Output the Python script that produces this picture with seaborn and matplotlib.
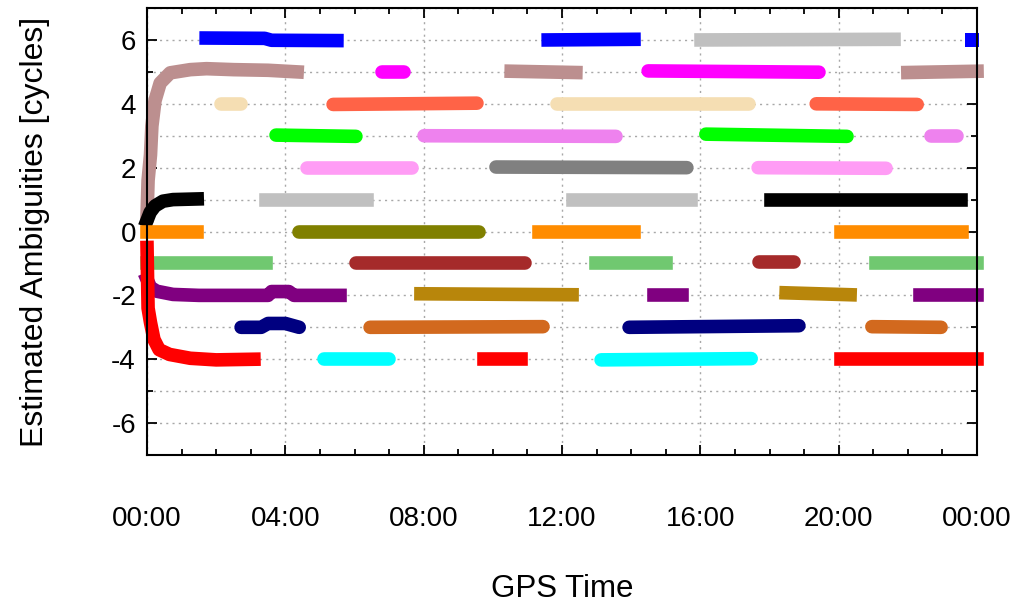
import numpy as np
import pandas as pd
import matplotlib
matplotlib.use("Agg")
import matplotlib.pyplot as plt
from matplotlib.ticker import MultipleLocator
import seaborn as sns

# ---- data: float-ambiguity arcs (time in hours of day, value in cycles) ----
# each arc: colour, cap style, times, values
arc_colors = [
    "#0000ff", "#0000ff", "#c0c0c0",                         # level 6
    "#bc8f8f", "#ff00ff", "#bc8f8f", "#ff00ff", "#bc8f8f",    # level 5
    "#f5deb3", "#ff6347", "#f5deb3", "#ff6347",               # level 4
    "#00ff00", "#ee82ee", "#00ff00", "#ee82ee",               # level 3
    "#ff9cf5", "#808080", "#ff9cf5",                          # level 2
    "#000000", "#c0c0c0", "#c0c0c0", "#000000",               # level 1
    "#ff8c00", "#808000", "#ff8c00", "#ff8c00",               # level 0
    "#70c870", "#a52a2a", "#70c870", "#a52a2a", "#70c870",    # level -1
    "#800080", "#b8860b", "#800080", "#b8860b", "#800080",    # level -2
    "#000080", "#d2691e", "#000080", "#d2691e",               # level -3
    "#ff0000", "#00ffff", "#ff0000", "#00ffff", "#ff0000",    # level -4
]
arc_caps = [
    "projecting", "projecting", "projecting",
    "projecting", "round", "projecting", "round", "projecting",
    "round", "round", "round", "round",
    "round", "round", "round", "round",
    "round", "round", "round",
    "projecting", "projecting", "projecting", "projecting",
    "projecting", "round", "projecting", "projecting",
    "projecting", "round", "projecting", "round", "projecting",
    "projecting", "projecting", "projecting", "projecting", "projecting",
    "round", "round", "round", "round",
    "projecting", "round", "projecting", "round", "projecting",
]
arc_times = [
    [1.71, 3.4, 3.6, 5.49], [11.6, 14.08], [16.02, 21.6],
    [0.0, 0.03, 0.1, 0.14, 0.23, 0.38, 0.67, 1.25, 1.72, 2.5, 3.5, 4.34],
    [6.8, 7.43], [10.53, 12.4], [14.49, 19.43], [22.0, 24.0],
    [2.14, 2.72], [5.38, 9.54], [11.86, 17.41], [19.35, 22.27],
    [3.73, 6.04], [8.01, 13.56], [16.16, 20.24], [22.67, 23.42],
    [4.63, 7.66], [10.09, 15.61], [17.67, 21.37],
    [0.0, 0.09, 0.23, 0.46, 0.75, 1.45], [3.44, 6.36], [12.32, 15.73], [18.04, 23.54],
    [0.0, 1.45], [4.4, 9.6], [11.34, 14.08], [20.07, 23.57],
    [0.0, 3.44], [6.04, 10.93], [12.98, 15.01], [17.7, 18.71], [21.08, 24.0],
    [0.0, 0.1, 0.28, 0.75, 1.5, 3.5, 3.6, 4.1, 4.25, 5.58],
    [7.92, 12.29], [14.66, 15.47], [18.48, 20.33], [22.35, 24.0],
    [2.72, 3.3, 3.5, 4.0, 4.4], [6.45, 11.45], [13.94, 18.85], [20.96, 22.96],
    [0.0, 0.03, 0.1, 0.2, 0.35, 0.65, 1.25, 2.0, 3.09],
    [5.12, 7.0], [9.74, 10.81], [13.13, 17.47], [20.07, 24.0],
]
arc_values = [
    [6.06, 6.05, 5.99, 5.98], [6.0, 6.02], [6.0, 6.02],
    [0.5, 1.6, 2.4, 3.3, 4.1, 4.65, 4.97, 5.07, 5.1, 5.07, 5.05, 5.0],
    [5.0, 5.0], [5.02, 4.98], [5.03, 4.99], [4.98, 5.02],
    [4.0, 4.0], [3.98, 4.02], [4.0, 4.0], [4.0, 3.98],
    [3.02, 2.98], [3.0, 2.98], [3.05, 2.98], [3.0, 3.0],
    [2.0, 2.0], [2.02, 2.0], [2.0, 1.98],
    [0.35, 0.6, 0.8, 0.95, 1.0, 1.02], [1.0, 1.0], [1.0, 1.0], [1.0, 1.0],
    [0.0, 0.0], [0.0, 0.0], [-0.02, -0.02], [-0.02, -0.02],
    [-1.0, -1.0], [-1.0, -1.0], [-1.0, -1.0], [-0.97, -0.97], [-1.0, -1.0],
    [-1.5, -1.75, -1.87, -1.97, -2.0, -2.0, -1.88, -1.88, -2.0, -2.0],
    [-1.95, -1.98], [-2.0, -2.0], [-1.92, -1.98], [-2.0, -2.0],
    [-3.0, -3.0, -2.88, -2.88, -3.0], [-3.0, -2.98], [-3.0, -2.95], [-2.98, -3.0],
    [-0.5, -2.4, -2.85, -3.38, -3.7, -3.85, -3.97, -4.02, -4.0],
    [-4.0, -4.0], [-4.0, -4.0], [-4.02, -3.98], [-4.0, -4.0],
]

# single isolated epoch at the end of the day
point_time = [23.86]
point_value = [6.0]
point_color = "#0000ff"

x_ticks = [0, 4, 8, 12, 16, 20, 24]
x_tick_labels = ["00:00", "04:00", "08:00", "12:00", "16:00", "20:00", "00:00"]
y_ticks = [-6, -4, -2, 0, 2, 4, 6]

# long-form table of all arcs
rows = []
for i, (ts, vs) in enumerate(zip(arc_times, arc_values)):
    for t, v in zip(ts, vs):
        rows.append({"arc": i, "time": t, "value": v})
df = pd.DataFrame(rows)

sns.set_theme(style="white")
plt.rcParams["font.family"] = ["Liberation Sans", "DejaVu Sans"]
plt.rcParams["axes.unicode_minus"] = False
plt.rcParams["text.color"] = "black"
plt.rcParams["axes.labelcolor"] = "black"
plt.rcParams["xtick.color"] = "black"
plt.rcParams["ytick.color"] = "black"

fig = plt.figure(figsize=(10.19, 6.03), dpi=100)
ax = fig.add_axes([0.1443, 0.2454, 0.8145, 0.7413])

line_w = 9.8
for i in range(len(arc_times)):
    sub = df[df["arc"] == i]
    sns.lineplot(data=sub, x="time", y="value", ax=ax, color=arc_colors[i],
                 lw=line_w, solid_capstyle=arc_caps[i], solid_joinstyle="round",
                 estimator=None, sort=False, legend=False, clip_on=False, zorder=3)

sns.scatterplot(x=point_time, y=point_value, ax=ax, color=point_color, marker="s",
                s=110, edgecolor=point_color, linewidth=0, legend=False, zorder=3,
                clip_on=False)

ax.set_xlim(0, 24)
ax.set_ylim(-7, 7)

ax.set_xticks(x_ticks)
ax.set_xticklabels(x_tick_labels)
ax.xaxis.set_minor_locator(MultipleLocator(1))
ax.set_yticks(y_ticks)
ax.yaxis.set_minor_locator(MultipleLocator(1))

ax.tick_params(which="both", direction="in", top=True, right=True,
               bottom=True, left=True, color="black", width=1.3)
ax.tick_params(which="major", length=7)
ax.tick_params(which="minor", length=4)
ax.tick_params(axis="x", which="major", labelsize=20, pad=37, labelcolor="black")
ax.tick_params(axis="y", which="major", labelsize=20, pad=8, labelcolor="black")

ax.grid(which="major", axis="both", ls=(0, (1.5, 3)), color="#a8a8a8", lw=1.0)
ax.grid(which="minor", axis="y", ls=(0, (1.5, 3)), color="#a8a8a8", lw=1.0)
ax.set_axisbelow(True)

for sp in ax.spines.values():
    sp.set_visible(True)
    sp.set_color("black")
    sp.set_linewidth(1.5)
    sp.set_zorder(4)

ax.set_xlabel("GPS Time", fontsize=22.5, labelpad=30, color="black")
ax.set_ylabel("Estimated Ambiguities [cycles]", fontsize=23, labelpad=44, color="black")

fig.savefig("out.png", dpi=100, facecolor="white")
